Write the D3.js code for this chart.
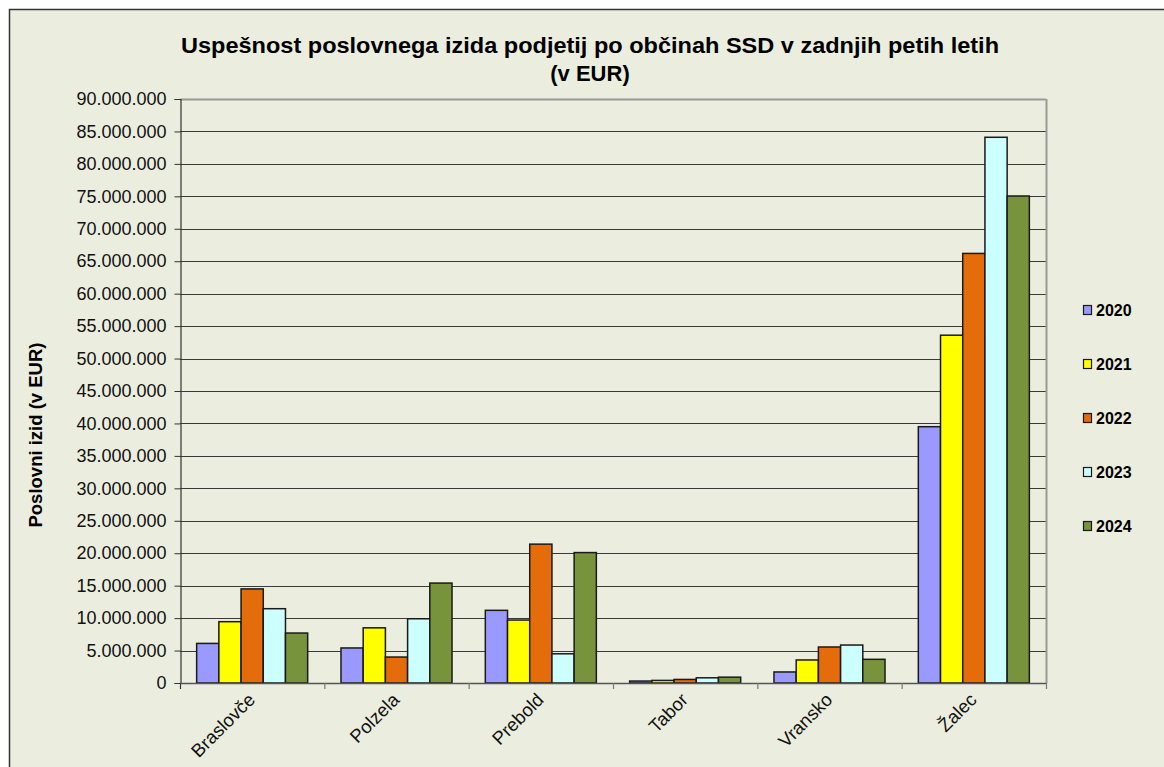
<!DOCTYPE html>
<html>
<head>
<meta charset="utf-8">
<script src="https://cdn.jsdelivr.net/npm/d3@7"></script>
<style>
  body { margin: 0; background: #fff; }
  text { font-family: "Liberation Sans", Arial, sans-serif; }
</style>
</head>
<body>
<div id="cont"></div>
<script>
// Data
var obcine = ["Braslovče", "Polzela", "Prebold", "Tabor", "Vransko", "Žalec"];
var leta = ["2020", "2021", "2022", "2023", "2024"];
var v2020 = [6100000, 5400000, 11200000, 300000, 1700000, 39500000];
var v2021 = [9450000, 8500000, 9700000, 400000, 3550000, 53600000];
var v2022 = [14500000, 4000000, 21400000, 550000, 5550000, 66200000];
var v2023 = [11450000, 9900000, 4500000, 800000, 5850000, 84100000];
var v2024 = [7700000, 15400000, 20100000, 900000, 3650000, 75050000];
var barve = ["#9999ff", "#ffff00", "#e46c0a", "#ccffff", "#77933c"];
var yTicks = d3.range(0, 90000001, 5000000);

var serije = [v2020, v2021, v2022, v2023, v2024];

// Layout
var W = 1164, H = 767;
var pLeft = 180, pRight = 1046, pTop = 99, pBottom = 683;
var bg = "#ebeedf";

var svg = d3.select("#cont").append("svg")
    .attr("width", W)
    .attr("height", H);

// background + outer frame (continues past the window on right/bottom)
svg.append("rect")
    .attr("x", 9.5).attr("y", 9.5)
    .attr("width", W + 20).attr("height", H + 20)
    .attr("fill", bg)
    .attr("stroke", "#333")
    .attr("stroke-width", 1.5);

var x0 = d3.scaleBand()
    .domain(obcine)
    .range([pLeft, pRight])
    .padding(0);

var x1 = d3.scaleBand()
    .domain(leta)
    .range([0, x0.bandwidth()])
    .paddingInner(0)
    .paddingOuter(0.75);

var y = d3.scaleLinear()
    .domain([0, 90000000])
    .range([pBottom, pTop]);

var fmt = function(v) {
    return d3.format(",")(v).replace(/,/g, ".");
};

// gridlines
svg.append("g")
    .selectAll("line")
    .data(yTicks.filter(function(d) { return d > 0; }))
    .join("line")
    .attr("x1", pLeft).attr("x2", pRight)
    .attr("y1", function(d) { return Math.round(y(d)) + 0.5; })
    .attr("y2", function(d) { return Math.round(y(d)) + 0.5; })
    .attr("stroke", function(d) { return d === 90000000 ? "#999" : "#3a3a3a"; })
    .attr("stroke-width", function(d) { return d === 90000000 ? 2 : 1.2; });

// plot frame right side
svg.append("line")
    .attr("x1", pRight + 0.5).attr("x2", pRight + 0.5)
    .attr("y1", pTop).attr("y2", pBottom)
    .attr("stroke", "#999")
    .attr("stroke-width", 2);

// y axis
var yAxis = d3.axisLeft(y)
    .tickValues(yTicks)
    .tickSize(6)
    .tickPadding(8)
    .tickFormat(fmt);

var gy = svg.append("g")
    .attr("transform", "translate(" + (pLeft + 0.5) + ",0)")
    .call(yAxis);
gy.select(".domain").attr("stroke", "#333").attr("stroke-width", 1.2);
gy.selectAll(".tick line").attr("stroke", "#333");
gy.selectAll(".tick text")
    .attr("font-size", 18)
    .attr("font-family", "'Liberation Sans', Arial, sans-serif")
    .attr("fill", "#111");

// bars
var groups = svg.append("g")
    .selectAll("g")
    .data(obcine)
    .join("g")
    .attr("transform", function(d) { return "translate(" + x0(d) + ",0)"; });

groups.selectAll("rect")
    .data(function(d, i) {
        return leta.map(function(l, j) { return { leto: l, val: serije[j][i], k: j }; });
    })
    .join("rect")
    .attr("x", function(d) { return x1(d.leto); })
    .attr("width", x1.bandwidth())
    .attr("y", function(d) { return y(d.val); })
    .attr("height", function(d) { return pBottom - y(d.val); })
    .attr("fill", function(d) { return barve[d.k]; })
    .attr("stroke", "#1a1a1a")
    .attr("stroke-width", 1.5);

// x axis
var xTickPos = obcine.map(function(d) { return x0(d); }).concat([pRight]);
svg.append("line")
    .attr("x1", pLeft).attr("x2", pRight)
    .attr("y1", pBottom + 0.5).attr("y2", pBottom + 0.5)
    .attr("stroke", "#555")
    .attr("stroke-width", 1.5);
svg.append("g")
    .selectAll("line")
    .data(xTickPos)
    .join("line")
    .attr("x1", function(d) { return d + 0.5; })
    .attr("x2", function(d) { return d + 0.5; })
    .attr("y1", pBottom)
    .attr("y2", pBottom + 6)
    .attr("stroke", function(d, i) { return i === 0 ? "#333" : "#777"; })
    .attr("stroke-width", 1.2);

svg.append("g")
    .selectAll("text")
    .data(obcine)
    .join("text")
    .attr("transform", function(d) {
        return "translate(" + (x0(d) + x0.bandwidth() / 2 + 4) + "," + (pBottom + 18) + ") rotate(-45)";
    })
    .attr("text-anchor", "end")
    .attr("font-size", 18.5)
    .attr("fill", "#111")
    .text(function(d) { return d; });

// title
var title = svg.append("text")
    .attr("text-anchor", "middle")
    .attr("font-size", 22)
    .attr("font-weight", "bold")
    .attr("fill", "#000");
title.append("tspan").attr("x", 590).attr("y", 53)
    .attr("textLength", 818)
    .attr("lengthAdjust", "spacingAndGlyphs")
    .text("Uspešnost poslovnega izida podjetij po občinah SSD v zadnjih petih letih");
title.append("tspan").attr("x", 590).attr("y", 81)
    .text("(v EUR)");

// y axis title
svg.append("text")
    .attr("transform", "translate(42,435) rotate(-90)")
    .attr("text-anchor", "middle")
    .attr("font-size", 18.5)
    .attr("font-weight", "bold")
    .attr("fill", "#000")
    .text("Poslovni izid (v EUR)");

// legend
var legend = svg.append("g")
    .selectAll("g")
    .data(leta)
    .join("g")
    .attr("transform", function(d, i) { return "translate(1083," + (310 + i * 54) + ")"; });

legend.append("rect")
    .attr("x", 0.5).attr("y", -4.5)
    .attr("width", 8).attr("height", 9)
    .attr("fill", function(d, i) { return barve[i]; })
    .attr("stroke", "#1a1a1a")
    .attr("stroke-width", 1.2);

legend.append("text")
    .attr("x", 13)
    .attr("y", 6)
    .attr("font-size", 16)
    .attr("font-weight", "bold")
    .attr("fill", "#000")
    .text(function(d) { return d; });
</script>
</body>
</html>
